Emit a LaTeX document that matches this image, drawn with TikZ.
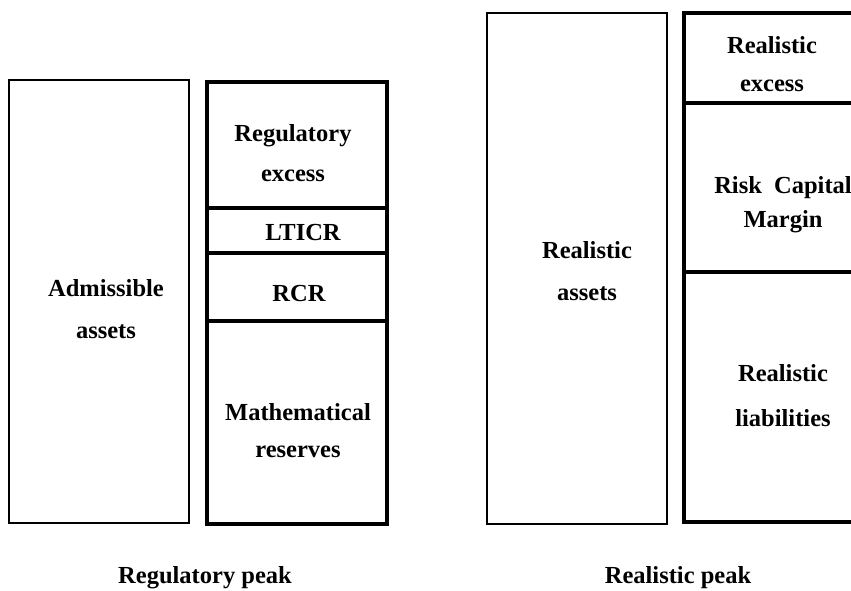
\documentclass[tikz,border=0pt]{standalone}
\usepackage{fontspec}
\setmainfont{Liberation Serif}
\tikzset{
  thinbox/.style={draw, line width=2pt, minimum width=180pt, inner sep=0pt},
  thickbox/.style={draw, line width=4pt, minimum width=180pt, inner sep=0pt},
  lbl/.style={align=center, inner sep=0pt, font=\bfseries\fontsize{24.5}{40}\selectfont}
}
\begin{document}
\begin{tikzpicture}[x=1pt,y=-1pt]
\clip (0,0) rectangle (851,591);
% regulatory peak
\node[thinbox, minimum height=443pt] (adm) at (99,301.5) {};
\node[thickbox, minimum height=126pt] (regex) at (297,145) {};
\node[thickbox, minimum height=45pt] (lticr) at (297,230.5) {};
\node[thickbox, minimum height=68pt] (rcr) at (297,287) {};
\node[thickbox, minimum height=203pt] (math) at (297,422.5) {};
\node[lbl, font=\bfseries\fontsize{24.5}{42}\selectfont] (tadm) at (106,309) {Admissible\\assets};
\node[lbl] (tregex) at (293,153) {Regulatory\\excess};
\node[lbl] (tlticr) at (303,233) {LTICR};
\node[lbl] (trcr) at (299,294) {RCR};
\node[lbl, font=\bfseries\fontsize{24.5}{37}\selectfont] (tmath) at (298,431) {Mathematical\\reserves};
\node[lbl] (tregpeak) at (205,578) {Regulatory peak};
% realistic peak
\node[thinbox, minimum height=511pt] (rass) at (577,268.5) {};
\node[thickbox, minimum height=90pt] (rex) at (774,58) {};
\node[thickbox, minimum height=169pt] (rcm) at (774,187.5) {};
\node[thickbox, minimum height=250pt] (rliab) at (774,397) {};
\node[lbl, font=\bfseries\fontsize{24.5}{42}\selectfont] (trass) at (587,271) {Realistic\\assets};
\node[lbl, font=\bfseries\fontsize{24.5}{38}\selectfont] (trex) at (772,64) {Realistic\\excess};
\node[lbl, font=\bfseries\fontsize{24.5}{34}\selectfont] (trcm) at (783,205) {Risk\ \ Capital\\Margin};
\node[lbl, font=\bfseries\fontsize{24.5}{45}\selectfont] (trliab) at (783,396) {Realistic\\liabilities};
\node[lbl] (trealpeak) at (678,578) {Realistic peak};
\end{tikzpicture}
\end{document}
